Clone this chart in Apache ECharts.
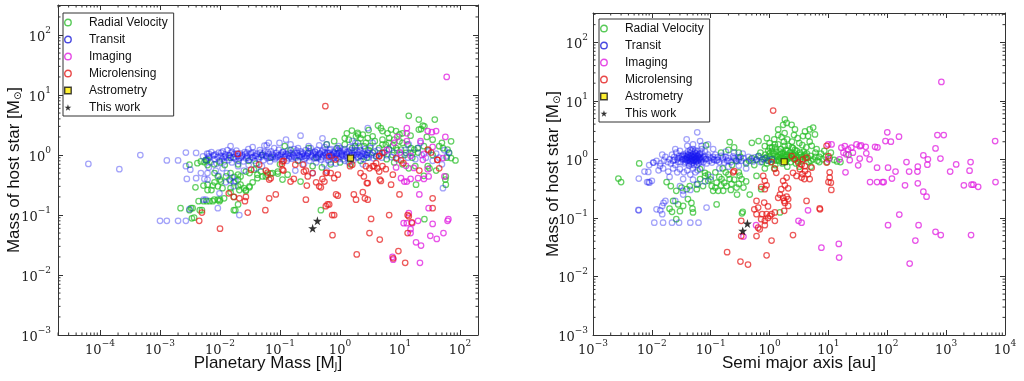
<!DOCTYPE html>
<html><head><meta charset="utf-8">
<script src="https://cdn.jsdelivr.net/npm/echarts@6/dist/echarts.min.js"></script>
<style>html,body{margin:0;padding:0;background:#fff}#c{width:1024px;height:381px}</style>
</head><body><div id="c"></div>
<script>
// ---------- categories / labels ----------
const categories = ['Radial Velocity','Transit','Imaging','Microlensing','Astrometry','This work'];
const massTickExps = [-4,-3,-2,-1,0,1,2];
const semiTickExps = [-3,-2,-1,0,1,2,3,4];
const hostTickExps = [-3,-2,-1,0,1,2];

// ---------- left panel: [planet mass (MJ), host mass (Msun)] ----------
const rvMass = [
[0.0022,0.13],[0.0033,0.13],[0.0035,0.13],[0.0031,0.12],[0.0034,0.088],[0.0037,0.09],[0.0044,0.17],[0.0053,0.31],[0.0062,0.26],[0.0039,0.29],
[0.006,0.17],[0.0048,0.78],[0.0055,0.76],[0.0058,0.83],[0.0062,0.68],[0.0046,0.12],[0.005,0.12],[0.0053,0.17],[0.0067,0.17],[0.008,0.18],
[0.01,0.18],[0.0098,0.17],[0.017,0.12],[0.02,0.15],[0.017,0.2],[0.015,0.24],[0.021,0.26],[0.027,0.25],[0.0062,0.32],[0.0081,0.35],
[0.0092,0.3],[0.011,0.28],[0.0081,0.5],[0.0092,0.44],[0.01,0.39],[0.0126,0.44],[0.015,0.5],[0.017,0.35],[0.02,0.39],[0.022,0.32],
[0.025,0.28],[0.031,0.3],[0.035,0.35],[0.042,0.41],[0.051,0.44],[0.062,0.47],[0.075,0.5],[0.092,0.53],[0.0031,0.69],[0.0042,0.73],
[0.0062,0.83],[0.018,0.12],[0.0072,0.26],[0.0076,0.31],[0.0104,0.36],[0.0144,0.39],[0.0174,0.43],[0.02,0.47],[0.022,0.44],[0.027,0.53],
[0.031,0.5],[0.037,0.57],[0.042,0.47],[0.048,0.53],[0.058,0.44],[0.07,0.49],[0.092,0.49],[0.11,0.39],[0.134,0.47],[0.015,0.28],
[0.02,0.3],[0.027,0.26],[0.031,0.29],[0.0076,0.17],[0.0092,0.18],[0.0117,0.19],[0.22,0.36],[0.35,0.65],[0.48,0.12],
[0.006,0.8],[0.008,0.7],[0.01,0.75],[0.012,0.68],[0.015,0.9],[0.02,0.7],[0.03,0.8],[0.04,0.72],[0.05,1.0],[0.07,0.9],
[0.1,0.7],[0.12,1.4],[0.15,1.2],[0.2,0.8],[0.3,1.3],[0.4,0.9],[0.5,0.62],[0.6,1.5],[0.7,0.7],[0.8,1.7],
[1.0,0.75],[1.2,1.9],[1.5,0.7],[1.6,1.3],[2.0,1.6],[2.2,0.8],[2.5,1.4],[3.0,1.2],
[14,4.5],[20.6,3.9],[38,3.9],[24,3.1],[25.5,3.0],[22.4,2.7],[20.6,2.65],[4.3,3.1],[8.6,2.5],[7.1,2.65],
[5.1,2.5],[6.2,2.3],[9.8,2.2],[11,2.3],[1.58,2.55],[1.97,2.33],[1.85,2.05],[2.4,2.18],[2.9,1.92],[3.5,2.05],
[71,1.69],[84,0.81],[58,0.44],[57,0.39],[58,0.32],[52,1.3],[62,1.23],[66,1.08],[71,0.89],[25.5,0.085],
[18.5,0.32],[29,0.65],[31,0.6],[11,1.59],[13.4,1.49],[15.2,1.3],[17.3,1.23],[19.7,1.3],[16.3,1.08],[12.6,1.08],
[10.4,1.23],[8.6,1.3],[7.6,1.43],[6.6,1.23],[5.8,1.49],[5.1,1.49],[5.1,1.8],[6.6,1.92],[8.0,1.8],[9.8,1.69],
[1.2,1.5],[1.4,1.8],[1.8,1.4],[2.2,1.9],[2.7,1.6],[3.2,1.4],[3.8,1.7],[4.5,1.3],[5.5,1.1],[6.5,1.6],
[7.5,1.0],[9,1.2],[12,1.0],[16,0.9],[20,1.1],[25,1.4],[30,1.2],[35,1.0],[45,1.4],[3.5,1.1],
[4,0.95],[2.8,0.9],[6,0.85],[8,0.75],[11,0.7],[14,0.6],[18,0.65],[25,0.45],[40,0.55],[60,0.9],
[50,1.6],[35,1.8],[28,2.0],[15,2.1],[3.0,2.6],[2.0,2.2],[1.3,2.3],[0.9,1.3],[4.8,2.8]
];
const transitMass = [
[0.000064,0.71],[0.00021,0.58],[0.00047,1.0],[0.0013,0.81],[0.002,0.81],[0.0027,1.1],[0.004,1.08],[0.0027,0.65],[0.0032,0.57],[0.0028,0.4],
[0.004,0.41],[0.001,0.08],[0.0013,0.08],[0.002,0.08],[0.0027,0.08],[0.0031,0.125],[0.0053,0.18],[0.0065,1.05],[0.0058,0.18],[0.0092,0.13],
[0.0098,0.23],[0.0062,0.39],[0.0048,0.5],[0.017,0.3],[0.015,0.37],[0.021,0.1],[0.126,1.8],[0.22,2.1],[0.51,1.9],[2.9,2.8],
[52,0.28],[0.055,1.43],[0.098,1.59],
[0.0052,0.95],[0.0058,0.82],[0.0061,1.05],[0.0066,0.9],[0.0070,0.76],[0.0072,1.12],[0.0077,0.98],[0.0081,0.85],[0.0084,1.02],[0.0088,0.72],
[0.0091,0.93],[0.0095,1.1],[0.0098,0.8],[0.0065,0.62],[0.0085,0.55],
[0.0103,0.97],[0.0108,0.86],[0.0112,1.15],[0.0118,0.78],[0.0122,1.02],[0.0128,0.9],[0.0133,1.2],[0.0139,0.82],[0.0145,0.98],[0.0151,1.08],
[0.0158,0.75],[0.0165,0.92],[0.0172,1.04],[0.018,0.85],[0.0188,1.18],[0.0196,0.95],[0.0205,0.8],[0.0214,1.06],[0.0224,0.9],[0.0235,1.0],
[0.0246,0.78],[0.0258,1.12],[0.027,0.88],[0.0283,0.97],[0.0297,1.25],[0.0312,0.83],[0.0327,1.02],[0.0343,0.92],[0.036,1.1],[0.0378,0.8],
[0.0397,0.97],[0.0417,1.05],[0.0438,0.86],[0.046,1.2],[0.0483,0.93],[0.0507,1.0],[0.0532,0.82],[0.0559,1.12],[0.0587,0.95],[0.0616,0.88],
[0.0647,1.04],[0.068,0.78],[0.0714,1.15],[0.075,0.92],[0.0787,1.0],[0.0826,0.85],[0.0868,1.08],[0.0911,0.94],[0.0956,1.22],
[0.011,0.6],[0.013,0.5],[0.016,0.42],[0.02,0.65],[0.025,0.55],[0.03,0.68],[0.04,0.6],[0.05,0.65],[0.015,1.4],[0.035,1.35],
[0.06,1.45],[0.08,1.3],[0.0095,0.45],[0.0125,0.35],[0.018,0.37],[0.0055,0.4],[0.0062,0.5],
[0.102,0.98],[0.107,0.85],[0.112,1.12],[0.118,0.92],[0.124,1.03],[0.13,0.8],[0.136,1.18],[0.143,0.95],[0.15,1.06],[0.157,0.87],
[0.165,1.0],[0.173,1.25],[0.182,0.9],[0.191,1.1],[0.2,0.82],[0.21,0.98],[0.22,1.15],[0.231,0.93],[0.243,1.05],[0.255,0.86],
[0.268,1.2],[0.281,0.97],[0.295,1.08],[0.31,0.8],[0.325,1.3],[0.341,0.95],[0.358,1.1],[0.376,0.88],[0.395,1.02],[0.415,1.22],
[0.436,0.92],[0.457,1.06],[0.48,0.84],[0.504,1.15],[0.53,0.98],[0.556,1.35],[0.584,0.9],[0.613,1.08],[0.643,0.82],[0.675,1.2],
[0.709,1.0],[0.745,0.88],[0.782,1.12],[0.821,0.95],[0.862,1.28],[0.905,1.04],[0.95,0.86],[0.998,1.15],
[0.11,1.0],[0.14,1.1],[0.17,0.95],[0.23,1.02],[0.27,0.9],[0.33,1.0],[0.38,1.15],[0.44,1.0],[0.5,0.92],[0.57,1.05],
[0.62,0.95],[0.68,1.1],[0.75,1.0],[0.8,0.9],[0.87,1.05],[0.93,1.2],[0.3,1.4],[0.45,1.45],[0.6,1.5],[0.7,0.75],
[0.4,0.75],[0.2,1.3],[0.15,1.5],[0.25,0.7],[0.55,0.7],[0.85,0.72],[0.95,1.4],[0.065,1.6],[0.35,0.5],[0.18,0.55],[0.6,0.55],
[1.03,0.95],[1.08,1.1],[1.13,0.85],[1.19,1.25],[1.25,1.0],[1.31,0.9],[1.38,1.15],[1.45,1.35],[1.52,0.96],[1.6,1.08],
[1.68,0.82],[1.76,1.2],[1.85,1.0],[1.94,0.9],[2.04,1.12],[2.14,1.4],[2.25,0.95],[2.36,1.05],[2.48,0.85],[2.6,1.25],
[2.73,1.0],[2.87,1.1],[3.0,0.9],[3.2,1.3],[3.4,1.0],[3.6,0.88],[3.8,1.15],[4.0,0.95],[4.3,1.2],[4.6,1.05],
[5.0,0.9],[5.4,1.1],[6.0,1.0],[6.5,1.25],[7.2,0.92],[8.0,1.1],[9.0,0.85],
[1.1,1.0],[1.3,1.05],[1.5,1.2],[1.7,1.0],[2.0,0.92],[2.2,1.2],[2.6,1.02],[1.2,0.8],[1.4,0.75],[1.8,1.6],
[1.6,1.7],[3.5,1.6],[2.4,0.7],[1.0,1.3],
[10.5,1.0],[12,1.2],[13.5,0.9],[15,1.1],[18,0.85],[20,1.3],[23,1.0],[27,0.9],[30,1.15],[35,0.8],
[40,1.05],[45,0.9],[55,1.2],[60,0.95],[50,0.7],[65,1.1],[22,1.6],[14,1.5],
[0.012,0.95],[0.014,1.0],[0.017,0.9],[0.019,1.05],[0.023,0.95],[0.026,1.02],[0.029,0.9],[0.033,1.08],[0.038,0.98],[0.044,0.92],
[0.052,1.05],[0.058,0.98],[0.066,0.9],[0.074,1.02],[0.083,0.95],[0.093,1.0],[0.105,1.05],[0.12,0.95],[0.135,1.02],[0.155,0.93],
[0.175,1.08],[0.195,1.0],[0.215,0.92],[0.24,1.1],[0.26,0.98],[0.29,1.05],[0.32,0.92],[0.35,1.02],[0.39,1.12],[0.43,0.95],
[0.47,1.05],[0.52,1.2],[0.58,1.0],[0.64,1.08],[0.72,0.96],[0.79,1.05],[0.88,0.98],[0.97,1.08],[1.06,1.02],[1.17,0.95],
[1.28,1.12],[1.42,1.05],[1.58,1.0],[1.75,1.12],[1.95,1.05],[2.15,0.98],[2.45,1.1],[2.8,1.0],[3.1,1.05],[0.008,1.0],
[0.0065,0.95],[0.0105,1.1],[0.0115,0.92],
[0.016,1.12],[0.021,0.88],[0.028,1.1],[0.035,0.9],[0.047,1.1],[0.063,1.12],[0.085,0.9],[0.11,1.12],[0.14,0.88],[0.19,1.18],
[0.25,0.95],[0.31,1.15],[0.42,0.88],[0.55,1.1],[0.7,1.25],[0.9,0.9],[1.15,1.18],[1.5,0.88],[1.9,1.2],[2.5,0.95]
];
const imagingMass = [
[60,20],[13,2.8],[29,2.5],[34,2.4],[40,2.5],[57,2.0],[9,2.0],[13,1.7],[22,1.7],[35,1.36],
[25,1.04],[15,0.97],[24,0.83],[52,0.89],[8.6,0.62],[12.6,0.66],[17,0.61],[29,0.58],[10.4,0.41],[11.8,0.36],
[13,0.36],[15,0.4],[20,0.41],[25,0.4],[30,0.44],[55,0.44],[21,0.22],[30,0.13],[14,0.107],[11.5,0.073],
[13,0.073],[16,0.073],[20,0.08],[35,0.071],[62,0.08],[64,0.085],[15,0.058],[15,0.05],[32,0.045],[41,0.04],
[53,0.05],[18.5,0.035],[22.4,0.031],[7.5,0.02],[7.7,0.018],[21.5,0.016],[13,2.3],[8,1.6],[10,1.1],[6,1.2]
];
const microMass = [
[0.57,6.5],[0.02,1.04],[0.0045,0.08],[0.005,0.11],[0.01,0.059],[0.029,0.11],[0.027,0.2],[0.045,0.69],[0.033,0.57],[0.057,0.12],
[0.066,0.19],[0.085,0.22],[0.066,0.39],[0.11,0.78],[0.11,0.57],[0.17,0.4],[0.18,0.69],[0.27,0.18],[0.28,0.31],[0.25,0.53],
[0.24,0.69],[0.4,0.35],[0.45,0.3],[0.55,0.36],[0.58,0.5],[0.66,0.95],[0.7,0.5],[0.92,0.47],[0.86,0.22],[0.58,0.14],
[0.66,0.15],[0.74,0.1],[0.8,0.1],[0.75,0.046],[1.6,0.69],[1.7,0.22],[1.85,0.18],[1.9,0.022],[2.2,0.5],[2.4,0.24],
[2.6,0.19],[2.9,0.18],[3.1,0.05],[3.3,0.086],[2.5,0.44],[2.9,0.34],[4.5,0.95],[4.6,0.39],[3.7,0.65],[4.6,0.039],
[6.6,0.1],[7.1,0.32],[7.6,0.47],[7.7,0.019],[9.4,0.025],[9.8,0.22],[11.4,0.73],[12.2,0.016],[13.4,0.1],[13.4,0.05],
[15.7,0.075],[21,0.55],[33,1.1],[35,0.13],[35,0.19],[42,0.83],[45,0.6],
[0.115,0.8],[0.108,0.71],[0.058,0.55],[0.062,0.51],[0.114,0.55],[0.07,0.41],[0.15,0.36],[0.27,0.55],[0.29,0.44],[0.35,0.5],
[0.48,0.29],[0.014,0.23],[0.017,0.2],[0.021,0.19],[0.026,0.17],[0.62,0.15],[0.84,0.84],[0.6,0.51],[0.8,0.41],[0.51,0.4],
[1.47,0.65],[2.7,0.65],[3.1,0.6],[3.5,0.65],[4,0.73],[4.2,0.6],[4.5,0.53],[5.1,0.65],[5.8,0.58],[4.8,0.37],
[2.8,0.34],[0.92,0.21],[29,1.23],[42,0.83],[8.6,0.89],[10.4,0.81],[4.5,0.97],[5.1,1.08],[14,0.095]
];
const astroMass = [[1.5,0.89]];
const thisWorkMass = [[0.35,0.06],[0.42,0.08]];

// ---------- right panel: [semi-major axis (au), host mass (Msun)] ----------
const rvSemi = [
[0.0027,0.47],[0.003,0.41],[0.0061,0.85],[0.0178,0.41],[0.021,0.35],[0.026,0.29],[0.032,0.33],[0.039,0.31],[0.044,0.35],[0.058,0.37],
[0.066,0.46],[0.08,0.52],[0.091,0.43],[0.074,0.35],[0.058,0.31],[0.023,0.195],[0.028,0.17],[0.034,0.16],[0.041,0.21],[0.047,0.18],
[0.049,0.144],[0.05,0.124],[0.02,0.144],[0.022,0.127],[0.026,0.095],[0.03,0.13],[0.126,0.17],[0.104,0.35],[0.126,0.4],[0.153,0.46],
[0.186,0.35],[0.163,0.29],[0.134,0.29],[0.11,0.29],[0.066,0.68],[0.08,0.59],[0.083,1.73],[0.21,1.97],[0.21,0.46],[0.226,0.38],
[0.275,0.33],[0.335,0.46],[0.31,0.53],[0.36,0.33],[0.46,0.25],[0.72,0.31],[0.6,0.52],[0.35,0.127],[1.5,0.124],[0.5,1.92],
[0.65,2.05],[0.83,1.68],[1.01,1.58],[1.23,1.8],[0.34,0.12],
[0.09,0.55],[0.1,0.45],[0.12,0.6],[0.14,0.5],[0.17,0.4],[0.2,0.55],[0.25,0.45],[0.3,0.6],[0.3,0.38],[0.4,0.42],
[0.12,0.33],[0.15,0.36],[0.22,0.3],[0.28,0.25],[0.18,0.6],[0.16,0.7],[0.23,0.8],[0.27,0.95],[0.32,1.1],[0.25,1.6],
[0.3,1.3],[0.2,1.45],[0.15,1.3],[0.4,0.85],[0.45,0.95],[0.5,1.05],[0.55,0.8],
[0.8,1.0],[0.85,1.2],[0.9,0.85],[0.95,1.4],[1.0,1.1],[1.05,0.9],[1.1,1.6],[1.15,1.25],[1.2,1.0],[1.25,0.8],
[1.3,1.35],[1.35,1.1],[1.4,1.8],[1.45,0.95],[1.5,1.2],[1.55,1.5],[1.6,1.05],[1.65,0.85],[1.7,1.3],[1.75,2.0],
[1.8,1.1],[1.85,0.92],[1.9,1.45],[1.95,1.2],[2.0,1.0],[2.1,1.7],[2.2,1.3],[2.3,0.9],[2.4,1.15],[2.5,1.55],
[2.6,1.0],[2.7,1.25],[2.8,0.85],[2.9,1.4],[3.0,1.1],[3.2,1.9],[3.4,1.2],[3.6,0.95],[3.8,1.35],[4.0,1.05],
[4.3,1.25],[4.6,0.9],[5.0,1.15],[5.5,1.0],[6.0,1.3],[6.5,0.95],[7.0,1.1],[8.0,1.0],[0.7,1.3],[0.75,0.9],
[0.65,1.15],[0.6,1.0],[0.9,1.1],[1.1,1.0],[1.3,0.95],[1.5,1.05],[1.7,1.0],[1.9,1.1],[2.2,1.05],[2.5,1.2],
[2.8,1.05],[3.3,1.0],[3.9,1.15],[4.5,1.05],[1.2,2.2],[1.6,2.4],[2.0,2.2],[2.4,2.0],[3.0,2.3],[1.0,1.9],
[0.9,2.3],[1.4,2.6],[1.8,2.8],[2.6,2.6],[5.2,1.7],[6.3,1.5],[7.5,1.25],[9.0,1.1],[10.5,1.05],[12.5,0.98],
[14,0.92],[9.5,0.9],[11,1.3],[8.5,1.4],[4.2,1.6],[3.6,1.75],[4.8,2.0],
[1.82,4.8],[1.95,4.2],[1.7,3.9],[2.37,3.9],[1.4,3.24],[2.7,3.24],[4.0,3.0],[5.5,3.5],[5.9,2.66],[3.7,2.5],
[4.5,2.5],[4.8,3.24],[0.83,0.7],[1.2,0.7],[2.0,0.75],[3.2,0.75],[5,0.75],[16,0.9],[22,1.2],
[1.0,1.25],[1.1,1.4],[1.3,1.15],[1.5,1.35],[1.7,1.15],[1.9,0.98],[2.1,1.1],[2.3,1.2],[2.6,1.15],[3.0,0.95],
[3.5,1.1],[4.0,1.2],[5.0,0.95],[1.2,1.25],[1.4,1.0],[1.6,1.25],[2.0,1.4],[2.7,1.45],[0.85,1.05],[0.95,0.95],
[3.3,1.3],[6.0,1.1],[7,0.9],[1.25,1.6],[1.8,1.7],[2.4,1.6]
];
const transitSemi = [
[0.035,1.0],[0.036,1.15],[0.037,0.9],[0.038,1.25],[0.039,1.05],[0.04,0.95],[0.041,1.2],[0.042,0.85],[0.043,1.1],[0.044,1.0],
[0.045,1.3],[0.046,0.92],[0.047,1.15],[0.048,1.02],[0.049,0.88],[0.05,1.22],[0.051,1.08],[0.052,0.95],[0.053,1.35],[0.054,1.0],
[0.055,1.15],[0.056,0.9],[0.057,1.25],[0.058,1.05],[0.06,0.95],[0.061,1.12],[0.062,0.86],[0.064,1.2],[0.065,1.0],[0.067,1.1],
[0.068,0.92],[0.07,1.3],[0.072,1.02],
[0.038,0.98],[0.04,1.08],[0.042,1.18],[0.044,0.93],[0.046,1.05],[0.048,1.4],[0.05,0.98],[0.052,1.12],[0.054,1.28],[0.056,1.04],
[0.058,0.92],[0.06,1.18],[0.063,1.06],[0.066,1.25],[0.045,1.45],[0.05,1.5],[0.055,1.42],[0.041,1.35],[0.06,1.38],[0.047,0.82],
[0.052,0.8],[0.043,0.78],[0.058,0.8],[0.036,0.85],[0.034,1.2],[0.033,1.0],[0.032,1.1],[0.031,0.9],[0.03,1.05],
[0.02,1.0],[0.021,0.85],[0.022,1.2],[0.023,0.95],[0.024,1.1],[0.025,0.8],[0.026,1.3],[0.027,1.0],[0.028,0.9],[0.029,1.15],
[0.0185,0.9],[0.017,1.1],[0.016,0.95],[0.015,1.2],[0.014,0.85],[0.0155,0.7],[0.019,0.62],[0.023,0.7],[0.027,0.6],[0.03,0.68],
[0.035,0.6],[0.04,0.65],[0.045,0.55],[0.05,0.7],[0.055,0.6],[0.06,0.65],[0.07,0.72],[0.075,0.9],[0.078,1.15],[0.082,1.0],
[0.085,0.85],[0.09,1.2],[0.095,0.95],[0.1,1.05],[0.105,0.88],[0.11,1.1],[0.115,0.98],[0.12,1.2],[0.08,1.35],[0.07,1.5],
[0.03,1.4],[0.025,1.5],
[0.125,0.95],[0.13,1.08],[0.14,0.9],[0.15,1.15],[0.16,1.0],[0.17,0.88],[0.18,1.1],[0.19,0.95],[0.2,1.05],[0.22,0.9],
[0.24,1.12],[0.26,1.0],[0.28,0.92],[0.3,1.08],[0.33,0.95],[0.36,1.05],[0.4,0.9],[0.44,1.1],[0.48,1.0],[0.52,0.92],
[0.56,1.08],[0.6,0.98],[0.65,1.12],[0.7,0.9],[0.75,1.0],[0.85,1.05],[0.95,0.95],[1.1,1.0],[0.3,0.78],[0.4,0.7],
[0.2,0.75],[0.14,0.7],[0.25,1.3],[0.35,1.25],[0.18,1.35],
[0.0059,0.137],[0.0087,0.61],[0.0091,0.4],[0.01,0.43],[0.0105,0.88],[0.012,0.94],[0.0138,0.77],[0.011,0.083],[0.0155,0.083],[0.022,0.083],
[0.029,0.083],[0.045,0.083],[0.062,0.083],[0.012,0.14],[0.015,0.16],[0.017,0.195],[0.025,0.195],[0.015,0.116],[0.059,2.9],[0.039,2.2],
[0.066,2.05],[0.085,0.15],[0.034,0.46],[0.034,0.29],[0.034,0.25],[0.006,0.47],[0.0075,0.62],[0.009,0.8],[0.05,0.45],[0.06,0.38],
[0.08,0.42],[0.1,0.5],[0.03,0.35],[0.045,0.3],[0.02,0.5],[0.013,0.65],[0.07,1.7],[0.09,1.8],[0.11,1.5],[0.05,1.8],[0.04,1.7],
[0.0139,0.135],[0.0158,0.18],[0.0083,0.41],[0.0088,0.41],[0.0107,0.88],[0.006,0.135],
[0.037,1.02],[0.039,1.12],[0.041,0.98],[0.043,1.05],[0.045,1.15],[0.047,1.0],[0.049,1.1],[0.051,0.95],[0.053,1.08],[0.055,1.02],
[0.057,0.98],[0.059,1.12],[0.062,1.0],[0.066,1.05],[0.069,0.98],[0.033,1.15],[0.028,1.05],[0.024,0.98],[0.075,1.08],[0.085,1.02],
[0.095,1.1],[0.11,1.0],[0.13,0.98],[0.16,1.08],[0.2,0.95],[0.25,1.05],[0.3,1.0]
];
const imagingSemi = [
[830,21],[100,2.9],[158,2.44],[93,2.05],[115,2.0],[710,2.6],[910,2.6],[6800,2.05],[36,1.73],[43,1.64],
[62,1.64],[68,1.6],[44,1.27],[34,1.03],[50,1.0],[67,0.72],[103,0.72],[138,0.62],[212,0.9],[235,0.62],
[325,0.62],[330,0.75],[410,1.17],[490,1.0],[480,0.81],[660,1.54],[800,1.03],[1170,0.62],[1480,0.82],[2600,0.9],
[2500,0.64],[51,0.41],[67,0.41],[83,0.41],[87,0.41],[120,0.47],[200,0.36],[330,0.39],[410,0.28],[465,0.23],
[2000,0.36],[2700,0.37],[2900,0.37],[3500,0.34],[6900,0.41],[160,0.114],[103,0.075],[340,0.075],[660,0.058],[810,0.051],
[2650,0.051],[300,0.041],[240,0.0166],
[9.9,1.8],[11.3,1.8],[16.6,1.58],[19,1.68],[21.6,1.48],[24.5,1.58],[30,1.8],[34,1.68],[18,1.3],[20,1.22],
[26,1.3],[15.5,1.0],[23,0.97],[19.5,0.6],[32,0.79],[10,1.0],[4.5,0.135],[3.1,0.089],[3.5,0.083],[0.59,0.075],
[0.36,0.048],[7.6,0.031],[15,0.036],[15.2,0.021]
];
const microSemi = [
[1.15,6.8],[1.08,0.9],[1.23,0.69],[1.3,0.59],[0.78,0.52],[0.83,0.43],[0.72,0.34],[0.89,0.36],[0.83,0.31],[0.25,0.63],
[1.95,0.49],[1.7,0.43],[1.82,0.36],[2.07,0.32],[1.58,0.31],[1.5,0.25],[1.4,0.22],[1.7,0.22],[1.95,0.23],[1.77,0.195],
[2.07,0.21],[1.82,0.18],[2.37,1.14],[2.7,1.0],[3.06,0.88],[3.5,0.82],[4.0,0.77],[4.25,1.07],[3.7,1.0],[3.27,0.68],
[4.0,0.63],[4.5,0.56],[3.5,0.49],[2.87,0.52],[2.5,0.59],[4.8,0.46],[5.2,0.72],[3.9,0.46],[3.6,0.56],[10.5,0.49],
[11,0.4],[11.2,0.3],[7.1,0.145],[4.25,0.195],[2.07,0.16],[1.77,0.132],[1.23,0.124],[1.01,0.108],[0.89,0.116],[0.75,0.116],
[0.72,0.095],[0.83,0.089],[0.94,0.1],[1.08,0.116],[1.23,0.089],[0.83,0.075],[0.68,0.064],[0.64,0.068],[0.6,0.195],[0.81,0.183],
[0.94,0.157],[0.64,0.15],[0.55,0.14],[0.6,0.116],[0.33,0.089],[0.33,0.049],[0.6,0.049],[1.08,0.041],[0.89,0.023],[2.5,0.051],
[0.19,0.026],[0.32,0.018],[0.43,0.016],[0.24,0.6],[9.3,1.7],[10,1.14],[9.3,0.88],[10.5,0.6],[10,0.41],[7.2,0.14]
];
const astroSemi = [[1.77,0.91]];
const thisWorkSemi = [[0.35,0.06],[0.42,0.08]];

// ---------- styling ----------
const colors = {
  rv: 'rgba(40,190,40,0.9)', rvSolid: '#2ebd2e',
  tr: 'rgba(25,25,240,0.5)', trSolid: '#1c1cd8',
  im: 'rgba(225,30,225,0.95)', imSolid: '#e01ee0',
  mi: 'rgba(230,25,25,0.9)', miSolid: '#e31a1a'
};
const STAR = 'path://M100,0L122.45,69.1L195.1,69.1L136.3,111.8L158.8,180.9L100,138.2L41.2,180.9L63.7,111.8L4.9,69.1L77.55,69.1Z';
const SQUARE = 'path://M0,0L10,0L10,10L0,10Z';
const lg = arr => arr.map(p => [Math.log10(p[0]), Math.log10(p[1])]);

const tickRich = {
  b: {fontFamily: 'DejaVu Serif', fontSize: 13, color: '#222', verticalAlign: 'bottom', lineHeight: 18},
  e: {fontFamily: 'DejaVu Serif', fontSize: 9, color: '#222', verticalAlign: 'top', lineHeight: 18}
};
function tickFmt(v) {
  const n = Math.round(v);
  if (Math.abs(v - n) > 1e-6) return '';
  return '{b|10}{e|' + (n < 0 ? '\u2212' + (-n) : String(n)) + '}';
}
const nameStyle = {
  fontFamily: 'Liberation Sans, Arial, sans-serif', fontSize: 17, color: '#111',
  rich: {s: {fontFamily: 'DejaVu Sans', fontSize: 10, color: '#111', verticalAlign: 'bottom', padding: [6, 0, 0, 0]}}
};
const lineStyle = {color: '#333', width: 1};
const axLine = {show: true, onZero: false, lineStyle};
const axTick = {show: true, inside: true, length: 5, lineStyle};

function mainX(gi, min, max, name) {
  return {gridIndex: gi, type: 'value', min, max, minInterval: 1, maxInterval: 1, splitNumber: 7, position: 'bottom',
    axisLine: axLine, axisTick: axTick, splitLine: {show: false}, axisLabel: {formatter: tickFmt, rich: tickRich, margin: 4},
    name, nameLocation: 'middle', nameGap: 20, nameMoveOverlap: false,
    nameTextStyle: Object.assign({verticalAlign: 'top'}, nameStyle)};
}
function mirrorX(gi, min, max) {
  return {gridIndex: gi, type: 'value', min, max, minInterval: 1, maxInterval: 1, splitNumber: 7, position: 'top',
    axisLine: axLine, axisTick: axTick, splitLine: {show: false}, axisLabel: {show: false}};
}
function mainY(gi, name, gap, margin) {
  return {gridIndex: gi, type: 'value', min: -3, max: 2.5, interval: 1, position: 'left',
    axisLine: axLine, axisTick: axTick, splitLine: {show: false}, axisLabel: {formatter: tickFmt, rich: tickRich, margin},
    name, nameLocation: 'middle', nameGap: gap, nameRotate: 90, nameMoveOverlap: false, nameTextStyle: nameStyle};
}
function mirrorY(gi) {
  return {gridIndex: gi, type: 'value', min: -3, max: 2.5, interval: 1, position: 'right',
    axisLine: axLine, axisTick: axTick, splitLine: {show: false}, axisLabel: {show: false}};
}
function minorSeries(xi, yi, xMin, xMax, yMin, yMax) {
  const data = [];
  for (let n = Math.floor(xMin); n <= Math.ceil(xMax); n++) for (let k = 2; k <= 9; k++) {
    const v = n + Math.log10(k); if (v > xMin && v < xMax) data.push([v, yMin, 0]);
  }
  for (let n = Math.floor(yMin); n <= Math.ceil(yMax); n++) for (let k = 2; k <= 9; k++) {
    const v = n + Math.log10(k); if (v > yMin && v < yMax) data.push([xMin, v, 1]);
  }
  return {type: 'custom', xAxisIndex: xi, yAxisIndex: yi, silent: true, z: 1, data,
    renderItem(params, api) {
      const cs = params.coordSys; const p = api.coord([api.value(0), api.value(1)]); const L = 2.5;
      const st = {stroke: '#333', lineWidth: 1};
      if (api.value(2) === 0) {
        return {type: 'group', children: [
          {type: 'line', shape: {x1: p[0], y1: cs.y + cs.height, x2: p[0], y2: cs.y + cs.height - L}, style: st},
          {type: 'line', shape: {x1: p[0], y1: cs.y, x2: p[0], y2: cs.y + L}, style: st}]};
      }
      return {type: 'group', children: [
        {type: 'line', shape: {x1: cs.x, y1: p[1], x2: cs.x + L, y2: p[1]}, style: st},
        {type: 'line', shape: {x1: cs.x + cs.width, y1: p[1], x2: cs.x + cs.width - L, y2: p[1]}, style: st}]};
    }};
}
function circleSeries(name, xi, yi, data, color, z) {
  return {name, type: 'scatter', xAxisIndex: xi, yAxisIndex: yi, data: lg(data), symbol: 'circle', symbolSize: 5.5, z,
    itemStyle: {color: 'rgba(0,0,0,0)', borderColor: color, borderWidth: 1.25}, emphasis: {disabled: true}, silent: true};
}
function panelSeries(xi, yi, rv, tr, im, mi, as, tw) {
  return [
    circleSeries(categories[0], xi, yi, rv, colors.rv, 2),
    circleSeries(categories[1], xi, yi, tr, colors.tr, 3),
    circleSeries(categories[2], xi, yi, im, colors.im, 4),
    circleSeries(categories[3], xi, yi, mi, colors.mi, 5),
    {name: categories[4], type: 'scatter', xAxisIndex: xi, yAxisIndex: yi, data: lg(as), symbol: 'rect', symbolSize: 6, z: 6,
      itemStyle: {color: '#ffee00', borderColor: '#111', borderWidth: 1.2}, silent: true},
    {name: categories[5], type: 'scatter', xAxisIndex: xi, yAxisIndex: yi, data: lg(tw), symbol: STAR, symbolSize: 9, z: 7,
      itemStyle: {color: '#000'}, silent: true}
  ];
}
function legendData() {
  const e = 'rgba(0,0,0,0)';
  return [
    {name: categories[0], icon: 'circle', itemStyle: {color: e, borderColor: colors.rvSolid, borderWidth: 1.4}},
    {name: categories[1], icon: 'circle', itemStyle: {color: e, borderColor: colors.trSolid, borderWidth: 1.4}},
    {name: categories[2], icon: 'circle', itemStyle: {color: e, borderColor: colors.imSolid, borderWidth: 1.4}},
    {name: categories[3], icon: 'circle', itemStyle: {color: e, borderColor: colors.miSolid, borderWidth: 1.4}},
    {name: categories[4], icon: SQUARE, itemStyle: {color: '#ffee00', borderColor: '#111', borderWidth: 1.4}},
    {name: categories[5], icon: STAR, itemStyle: {color: '#000'}}
  ];
}
function legend(left, top) {
  return {left, top, orient: 'vertical', data: legendData(), selectedMode: false, itemWidth: 32, itemHeight: 6.5, itemGap: 4,
    padding: [3, 6, 2, 1], borderColor: '#333', borderWidth: 1, backgroundColor: '#fff', borderRadius: 0, z: 20,
    symbolKeepAspect: true,
    textStyle: {fontFamily: 'Liberation Sans, Arial, sans-serif', fontSize: 12, color: '#111', lineHeight: 13}};
}

const option = {
  animation: false,
  backgroundColor: '#fff',
  grid: [
    {left: 58, top: 5, width: 420, height: 330},
    {left: 593, top: 13, width: 412, height: 322}
  ],
  xAxis: [
    mainX(0, -4.7, 2.3, 'Planetary Mass [M{s|J}]'), mirrorX(0, -4.7, 2.3),
    mainX(1, -3, 4, 'Semi major axis [au]'), mirrorX(1, -3, 4)
  ],
  yAxis: [
    mainY(0, 'Mass of host star [M{s|\u2299}]', 35, 7), mirrorY(0),
    mainY(1, 'Mass of host star [M{s|\u2299}]', 31, 5), mirrorY(1)
  ],
  legend: [legend(63, 13), legend(599, 19)],
  series: [
    minorSeries(0, 0, -4.7, 2.3, -3, 2.5),
    minorSeries(2, 2, -3, 4, -3, 2.5),
    ...panelSeries(0, 0, rvMass, transitMass, imagingMass, microMass, astroMass, thisWorkMass),
    ...panelSeries(2, 2, rvSemi, transitSemi, imagingSemi, microSemi, astroSemi, thisWorkSemi)
  ]
};
const chart = echarts.init(document.getElementById('c'), null, {renderer: 'canvas'});
chart.setOption(option);
</script></body></html>
